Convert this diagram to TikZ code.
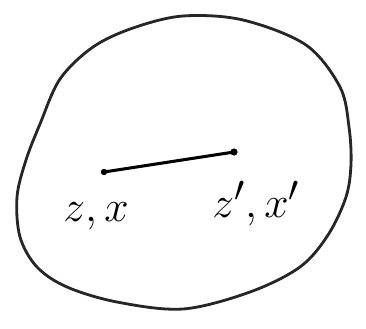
\documentclass[tikz,border=0pt]{standalone}
\usepackage{amsmath,amssymb}
\usepackage{tikz}
\usetikzlibrary{positioning,calc}

\tikzset{
  blob/.style={line width=2.4pt, black!85},
  seg/.style={line width=2.6pt, line cap=round},
  lbl/.style={font=\Huge, scale=1.5, inner sep=0pt}
}

\begin{document}
\begin{tikzpicture}[x=0.03cm, y=-0.03cm]
    \useasboundingbox (0,0) rectangle (366,328);

    % --- the region ---
    \draw[blob] plot[smooth cycle, tension=0.55] coordinates {
      (183,16) (243,20) (306,45) (340,87) (349,127) (351,164) (346,197)
      (328,235) (300,267) (250,292) (183,309) (117,302) (67,287) (37,267)
      (20,237) (17,197) (26,160) (40,124) (60,79) (93,47) (133,28)};

    % --- the segment ---
    \coordinate (p) at (104,172);
    \coordinate (q) at (234,152);
    \draw[seg] (p) -- (q);
    \fill (p) circle (3.2);
    \fill (q) circle (3.6);

    \node[lbl] (zx) at (96,216) {$z,x$};
    \node[lbl] (zxp) at (256,204) {$z',x'$};
  \end{tikzpicture}
\end{document}
